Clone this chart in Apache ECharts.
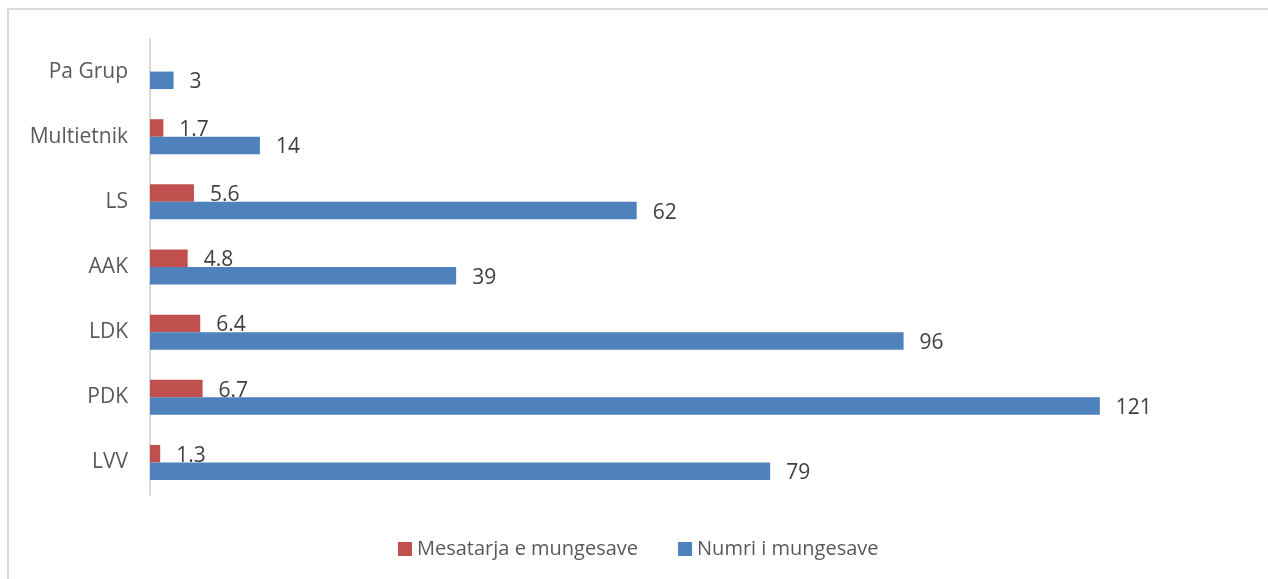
<!DOCTYPE html>
<html>
<head>
<meta charset="utf-8">
<script src="https://cdn.jsdelivr.net/npm/echarts@6/dist/echarts.min.js"></script>
<style>
html, body { margin: 0; padding: 0; background: #fff; }
#main { width: 1268px; height: 579px; }
</style>
</head>
<body>
<div id="main"></div>
<script>
// categories listed bottom to top
var categories = ['LVV', 'PDK', 'LDK', 'AAK', 'LS', 'Multietnik', 'Pa Grup'];
var numri = [79, 121, 96, 39, 62, 14, 3];
var mesatarja = [1.3, 6.7, 6.4, 4.8, 5.6, 1.7, null];

var labelStyle = {
    show: true,
    position: 'right',
    distance: 16,
    offset: [0, 2],
    color: '#404040',
    fontSize: 21,
    fontFamily: 'Open Sans'
};

var myChart = echarts.init(document.getElementById('main'));
var option = {
    backgroundColor: '#fff',
    animation: false,
    graphic: [{
        type: 'rect',
        shape: { x: 8, y: 9, width: 1400, height: 800 },
        style: { fill: 'none', stroke: '#d9d9d9', lineWidth: 2 },
        silent: true
    }],
    legend: {
        data: ['Mesatarja e mungesave', 'Numri i mungesave'],
        left: 393,
        top: 534,
        itemWidth: 14,
        itemHeight: 14,
        itemGap: 40,
        icon: 'rect',
        textStyle: { color: '#595959', fontSize: 20, fontFamily: 'Open Sans' }
    },
    grid: { left: 150, right: 19, top: 39, bottom: 84 },
    xAxis: {
        type: 'value',
        min: 0,
        max: 140,
        show: false
    },
    yAxis: {
        type: 'category',
        data: categories,
        axisLine: { lineStyle: { color: '#d9d9d9', width: 2 } },
        axisTick: { show: false },
        axisLabel: { color: '#595959', fontSize: 21, fontFamily: 'Open Sans', margin: 22 }
    },
    series: [{
        name: 'Mesatarja e mungesave',
        type: 'bar',
        data: mesatarja,
        barWidth: 17.5,
        barGap: '0%',
        itemStyle: { color: '#c0504d' },
        label: labelStyle
    }, {
        name: 'Numri i mungesave',
        type: 'bar',
        data: numri,
        barWidth: 17.5,
        barGap: '0%',
        itemStyle: { color: '#4f81bd' },
        label: labelStyle
    }]
};
myChart.setOption(option);
</script>
</body>
</html>
